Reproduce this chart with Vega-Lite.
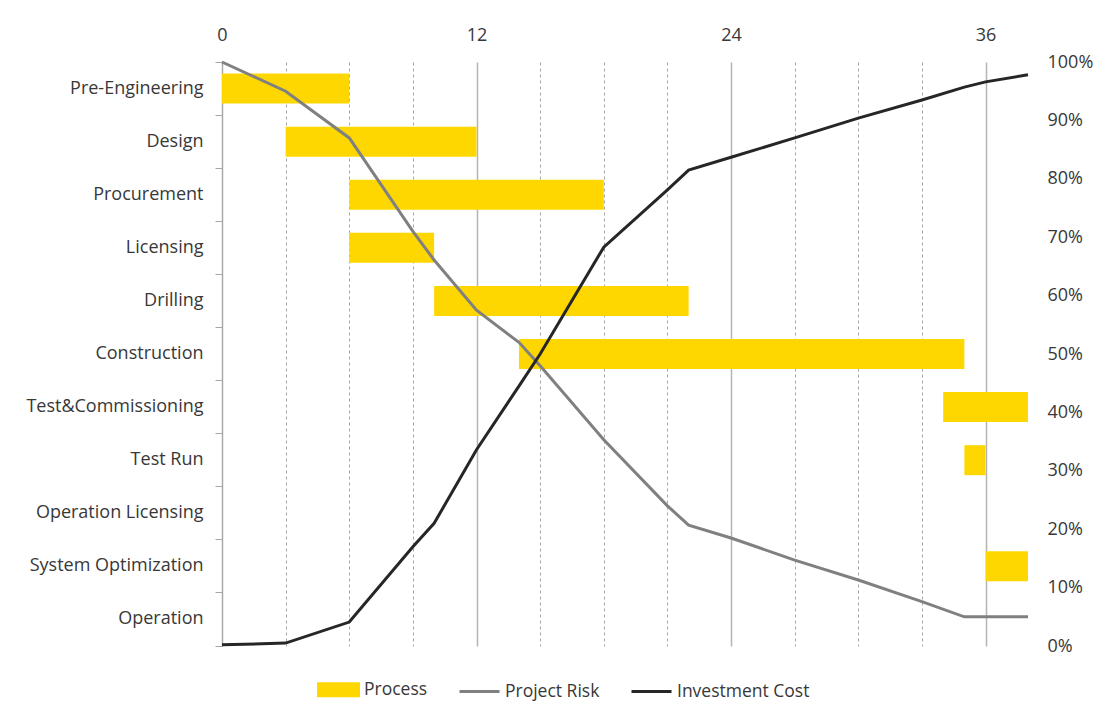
{
  "$schema": "https://vega.github.io/schema/vega-lite/v6.json",
  "width": 806,
  "height": 584,
  "autosize": {"type": "none"},
  "padding": {"left": 222, "top": 62, "right": 79, "bottom": 71},
  "background": "white",
  "config": {
    "font": "Open Sans",
    "view": {"stroke": null}
  },
  "datasets": {
    "tasks": [
      {"task": "Pre-Engineering", "start": 0, "end": 6, "series": "Process"},
      {"task": "Design", "start": 3, "end": 12, "series": "Process"},
      {"task": "Procurement", "start": 6, "end": 18, "series": "Process"},
      {"task": "Licensing", "start": 6, "end": 10, "series": "Process"},
      {"task": "Drilling", "start": 10, "end": 22, "series": "Process"},
      {"task": "Construction", "start": 14, "end": 35, "series": "Process"},
      {"task": "Test&Commissioning", "start": 34, "end": 38, "series": "Process"},
      {"task": "Test Run", "start": 35, "end": 36, "series": "Process"},
      {"task": "System Optimization", "start": 36, "end": 38, "series": "Process"}
    ],
    "curves": [
      {"series": "Project Risk", "month": 0, "value": 1.0},
      {"series": "Project Risk", "month": 3, "value": 0.95},
      {"series": "Project Risk", "month": 6, "value": 0.87},
      {"series": "Project Risk", "month": 9, "value": 0.71},
      {"series": "Project Risk", "month": 10, "value": 0.661},
      {"series": "Project Risk", "month": 12, "value": 0.575},
      {"series": "Project Risk", "month": 14, "value": 0.52},
      {"series": "Project Risk", "month": 15, "value": 0.48},
      {"series": "Project Risk", "month": 18, "value": 0.353},
      {"series": "Project Risk", "month": 21, "value": 0.24},
      {"series": "Project Risk", "month": 22, "value": 0.207},
      {"series": "Project Risk", "month": 24, "value": 0.185},
      {"series": "Project Risk", "month": 27, "value": 0.147},
      {"series": "Project Risk", "month": 30, "value": 0.113},
      {"series": "Project Risk", "month": 33, "value": 0.076},
      {"series": "Project Risk", "month": 35, "value": 0.05},
      {"series": "Project Risk", "month": 36, "value": 0.05},
      {"series": "Project Risk", "month": 38, "value": 0.05},
      {"series": "Investment Cost", "month": 0, "value": 0.002},
      {"series": "Investment Cost", "month": 3, "value": 0.005},
      {"series": "Investment Cost", "month": 6, "value": 0.041},
      {"series": "Investment Cost", "month": 9, "value": 0.17},
      {"series": "Investment Cost", "month": 10, "value": 0.21},
      {"series": "Investment Cost", "month": 12, "value": 0.336},
      {"series": "Investment Cost", "month": 14, "value": 0.445},
      {"series": "Investment Cost", "month": 15, "value": 0.5},
      {"series": "Investment Cost", "month": 18, "value": 0.683},
      {"series": "Investment Cost", "month": 21, "value": 0.781},
      {"series": "Investment Cost", "month": 22, "value": 0.815},
      {"series": "Investment Cost", "month": 24, "value": 0.837},
      {"series": "Investment Cost", "month": 27, "value": 0.87},
      {"series": "Investment Cost", "month": 30, "value": 0.904},
      {"series": "Investment Cost", "month": 33, "value": 0.935},
      {"series": "Investment Cost", "month": 35, "value": 0.957},
      {"series": "Investment Cost", "month": 36, "value": 0.966},
      {"series": "Investment Cost", "month": 38, "value": 0.978}
    ]
  },
  "layer": [
    {
      "data": {"name": "tasks"},
      "mark": {"type": "bar", "height": {"band": 0.565}},
      "encoding": {
        "y": {
          "field": "task",
          "type": "nominal",
          "scale": {
            "domain": ["Pre-Engineering", "Design", "Procurement", "Licensing", "Drilling", "Construction", "Test&Commissioning", "Test Run", "Operation Licensing", "System Optimization", "Operation"],
            "paddingInner": 0,
            "paddingOuter": 0
          },
          "axis": {
            "orient": "left",
            "title": null,
            "bandPosition": 1,
            "tickExtra": true,
            "tickSize": 7,
            "tickColor": "#a6a6a6",
            "domainColor": "#a6a6a6",
            "labelPadding": 12,
            "labelFontSize": 18,
            "labelColor": "#383838",
            "labelLimit": 300,
            "grid": false
          }
        },
        "x": {
          "field": "start",
          "type": "quantitative",
          "scale": {"domain": [0, 38], "nice": false, "zero": false},
          "axis": {
            "orient": "top",
            "title": null,
            "values": [0, 3, 6, 9, 12, 15, 18, 21, 24, 27, 30, 33, 36],
            "labelExpr": "datum.value % 12 === 0 ? datum.label : ''",
            "labelFlush": false,
            "labelOverlap": false,
            "ticks": false,
            "domain": false,
            "grid": true,
            "gridColor": {"condition": {"test": "datum.value % 12 === 0", "value": "#b4b4b4"}, "value": "#a6a6a6"},
            "gridDash": {"condition": {"test": "datum.value % 12 === 0", "value": []}, "value": [3, 3]},
            "gridWidth": {"condition": {"test": "datum.value % 12 === 0", "value": 1.5}, "value": 1},
            "labelFontSize": 18,
            "labelColor": "#383838",
            "labelPadding": 18
          }
        },
        "x2": {"field": "end"},
        "color": {
          "field": "series",
          "type": "nominal",
          "scale": {
            "domain": ["Process", "Project Risk", "Investment Cost"],
            "range": ["#FFD700", "#808080", "#262626"]
          },
          "legend": {
            "orient": "none",
            "legendX": 95,
            "legendY": 606,
            "direction": "horizontal",
            "title": null,
            "labelFontSize": 17.5,
            "labelColor": "#383838",
            "labelOffset": 4,
            "columnPadding": 25,
            "symbolSize": 1600,
            "symbolStrokeWidth": 3,
            "encode": {
              "symbols": {
                "update": {
                  "shape": {"signal": "datum.value === 'Process' ? 'M-1,-0.3L1,-0.3L1,0.3L-1,0.3Z' : 'M-1,0L1,0'"},
                  "fill": {"signal": "datum.value === 'Process' ? '#FFD700' : 'transparent'"},
                  "stroke": {"signal": "datum.value === 'Process' ? 'transparent' : (datum.value === 'Project Risk' ? '#808080' : '#262626')"},
                  "strokeWidth": {"value": 3},
                  "opacity": {"value": 1}
                }
              }
            }
          }
        }
      }
    },
    {
      "data": {"name": "curves"},
      "mark": {"type": "line", "strokeWidth": 3},
      "encoding": {
        "x": {"field": "month", "type": "quantitative"},
        "y": {
          "field": "value",
          "type": "quantitative",
          "scale": {"domain": [0, 1], "nice": false},
          "axis": {
            "orient": "right",
            "title": null,
            "format": "%",
            "values": [0, 0.1, 0.2, 0.3, 0.4, 0.5, 0.6, 0.7, 0.8, 0.9, 1],
            "ticks": false,
            "domain": false,
            "grid": false,
            "labelPadding": 19,
            "labelFontSize": 18,
            "labelColor": "#383838"
          }
        },
        "color": {"field": "series", "type": "nominal"}
      }
    }
  ],
  "resolve": {"scale": {"y": "independent"}, "axis": {"y": "independent"}}
}
